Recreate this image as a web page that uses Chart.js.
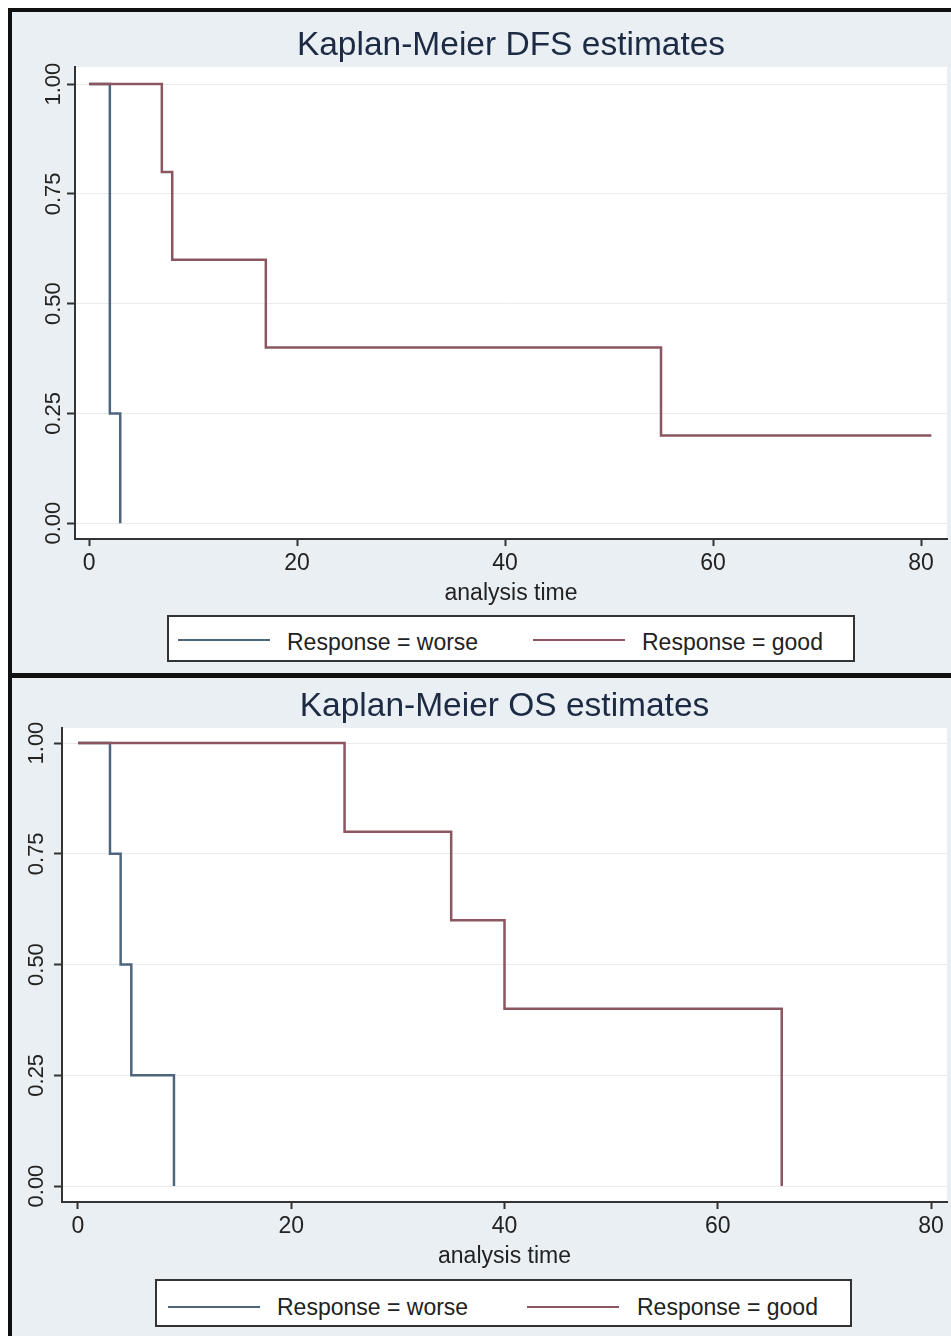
<!DOCTYPE html>
<html>
<head>
<meta charset="utf-8">
<script src="https://cdn.jsdelivr.net/npm/chart.js@4.4.1/dist/chart.umd.min.js"></script>
<style>
  body { margin: 0; width: 951px; height: 1336px; overflow: hidden; background: #fff; position: relative; font-family: "Liberation Sans", Arial, sans-serif; }
  .panel { position: absolute; left: 8px; width: 943px; box-sizing: border-box; background: #e9eff2; border-left: 4px solid #111; }
  #panel1 { top: 8px; height: 670px; border-top: 4px solid #111; border-bottom: 5px solid #111; }
  #panel2 { top: 678px; height: 658px; }
  .panel canvas { position: absolute; left: 0; top: 0; }
  .legend { position: absolute; box-sizing: border-box; background: #fff; border: 2px solid #333; }
  .legend .ln { position: absolute; height: 2px; width: 92px; }
  .legend .tx { position: absolute; font-size: 23px; line-height: 23px; color: #222; white-space: nowrap; }
</style>
</head>
<body>
<div class="panel" id="panel1"><canvas id="dfs" width="939" height="661"></canvas></div>
<div class="panel" id="panel2"><canvas id="os" width="939" height="658"></canvas></div>

<div class="legend" style="left:167px; top:615px; width:688px; height:47px;">
  <div class="ln" style="left:9px; top:22px; background:#4d667d;"></div>
  <div class="tx" style="left:118px; top:13.5px;">Response = worse</div>
  <div class="ln" style="left:364px; top:22px; background:#8c5660;"></div>
  <div class="tx" style="left:473px; top:13.5px;">Response = good</div>
</div>
<div class="legend" style="left:155px; top:1279px; width:697px; height:48px;">
  <div class="ln" style="left:11px; top:25px; background:#4d667d;"></div>
  <div class="tx" style="left:120px; top:14.5px;">Response = worse</div>
  <div class="ln" style="left:370px; top:25px; background:#8c5660;"></div>
  <div class="tx" style="left:480px; top:14.5px;">Response = good</div>
</div>

<script>
// tick positions
const xTicks = [0, 20, 40, 60, 80];
const yTicks = [0, 0.25, 0.5, 0.75, 1];

// DFS curves (time, survival after the step)
const dfsWorseTime = [0, 2, 3];
const dfsWorseSurv = [1, 0.25, 0];
const dfsGoodTime = [0, 7, 8, 17, 55, 81];
const dfsGoodSurv = [1, 0.8, 0.6, 0.4, 0.2, 0.2];

// OS curves
const osWorseTime = [0, 3, 4, 5, 9];
const osWorseSurv = [1, 0.75, 0.5, 0.25, 0];
const osGoodTime = [0, 25, 35, 40, 66];
const osGoodSurv = [1, 0.8, 0.6, 0.4, 0];

const worseColor = '#4d667d';
const goodColor = '#8c5660';
const family = '"Liberation Sans", Arial, sans-serif';
const textColor = '#222';

// white plot region
const plotBg = {
  id: 'plotBg',
  beforeDraw(chart) {
    const { ctx, chartArea: a } = chart;
    ctx.save();
    ctx.fillStyle = '#fff';
    ctx.fillRect(a.left, a.top, a.right - a.left, a.bottom - a.top);
    ctx.restore();
  }
};

// rotated y tick labels, Stata style
const yLabels = {
  id: 'yLabels',
  afterDraw(chart, args, opts) {
    const y = chart.scales.y;
    const ctx = chart.ctx;
    ctx.save();
    ctx.font = '22px ' + family;
    ctx.fillStyle = textColor;
    ctx.textAlign = 'center';
    ctx.textBaseline = 'alphabetic';
    yTicks.forEach(v => {
      ctx.save();
      ctx.translate(opts.x, y.getPixelForValue(v));
      ctx.rotate(-Math.PI / 2);
      ctx.fillText(v.toFixed(2), 0, 0);
      ctx.restore();
    });
    ctx.restore();
  }
};

function points(times, surv) {
  return times.map((t, i) => ({ x: t, y: surv[i] }));
}

function kmChart(id, cfg) {
  return new Chart(document.getElementById(id), {
    type: 'line',
    data: {
      datasets: [
        { label: 'Response = worse', data: points(cfg.worseTime, cfg.worseSurv), borderColor: worseColor, stepped: 'before', order: 2 },
        { label: 'Response = good', data: points(cfg.goodTime, cfg.goodSurv), borderColor: goodColor, stepped: 'before', order: 1 }
      ]
    },
    options: {
      responsive: false,
      animation: false,
      elements: {
        line: { borderWidth: 2.5, tension: 0, fill: false },
        point: { radius: 0 }
      },
      layout: { padding: { left: 0, right: 4, top: 0, bottom: 0 } },
      plugins: {
        legend: { display: false },
        tooltip: { enabled: false },
        title: {
          display: true,
          text: cfg.title,
          fullSize: false,
          color: '#1c2a44',
          font: { size: 33.5, family: family, weight: 'normal' },
          padding: cfg.titlePad
        },
        yLabels: { x: cfg.yLabelX }
      },
      scales: {
        x: {
          type: 'linear',
          min: cfg.xMin,
          max: cfg.xMax,
          afterBuildTicks: s => { s.ticks = xTicks.map(v => ({ value: v })); },
          afterFit: s => { s.height = 134; },
          grid: { drawOnChartArea: false, tickLength: 7, tickColor: '#333', tickWidth: 2 },
          border: { color: '#333', width: 2 },
          ticks: { font: { size: 23, family: family }, color: textColor, padding: 4, maxRotation: 0 },
          title: {
            display: true,
            text: 'analysis time',
            font: { size: 23, family: family },
            color: textColor,
            padding: { top: 0, bottom: 66 }
          }
        },
        y: {
          min: cfg.yMin,
          max: cfg.yMax,
          afterBuildTicks: s => { s.ticks = yTicks.map(v => ({ value: v })); },
          afterFit: s => { s.width = cfg.yWidth; },
          grid: { color: '#e8ecec', lineWidth: 1, tickLength: 8, tickColor: '#333', tickWidth: 2 },
          border: { color: '#333', width: 2 },
          ticks: { display: false }
        }
      }
    },
    plugins: [plotBg, yLabels]
  });
}

kmChart('dfs', {
  title: 'Kaplan-Meier DFS estimates',
  worseTime: dfsWorseTime, worseSurv: dfsWorseSurv,
  goodTime: dfsGoodTime, goodSurv: dfsGoodSurv,
  xMin: -1.35, xMax: 82.5,
  yMin: -0.036, yMax: 1.039,
  yWidth: 63,
  yLabelX: 48,
  titlePad: { top: 14, bottom: 0.8 }
});

kmChart('os', {
  title: 'Kaplan-Meier OS estimates',
  worseTime: osWorseTime, worseSurv: osWorseSurv,
  goodTime: osGoodTime, goodSurv: osGoodSurv,
  xMin: -1.5, xMax: 81.5,
  yMin: -0.036, yMax: 1.034,
  yWidth: 50,
  yLabelX: 31,
  titlePad: { top: 8.3, bottom: 1.5 }
});
</script>
</body>
</html>
